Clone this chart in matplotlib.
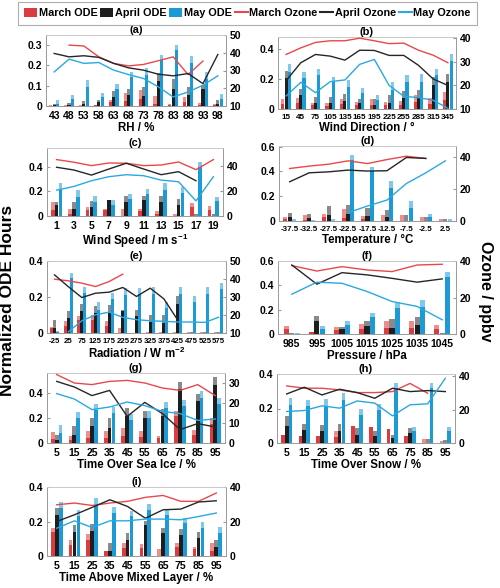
import numpy as np
import matplotlib
matplotlib.use("Agg")
import matplotlib.pyplot as plt
from matplotlib.patches import Patch
from matplotlib.lines import Line2D

plt.rcParams['font.family'] = ['Liberation Sans', 'DejaVu Sans']
plt.rcParams['font.weight'] = 'bold'
plt.rcParams['mathtext.fontset'] = 'custom'
plt.rcParams['mathtext.bf'] = 'Liberation Sans:bold'
plt.rcParams['mathtext.rm'] = 'Liberation Sans:bold'
nan = np.nan

# ---------------- data ----------------
a_cats = [43, 48, 53, 58, 63, 68, 73, 78, 83, 88, 93, 98]
a_tot_mar = [0.004, 0.003, 0.004, 0.005, 0.031, 0.064, 0.077, 0.048, 0.008, 0.045, 0.015, 0.008]
a_sol_mar = [0.002, 0.001, 0.002, 0.003, 0.020, 0.023, 0.036, 0.010, 0.004, 0.020, 0.003, 0.003]
a_tot_apr = [0.010, 0.016, 0.025, 0.031, 0.072, 0.082, 0.094, 0.165, 0.135, 0.094, 0.105, 0.028]
a_sol_apr = [0.005, 0.005, 0.010, 0.020, 0.044, 0.053, 0.048, 0.124, 0.086, 0.053, 0.082, 0.012]
a_tot_may = [0.028, 0.056, 0.127, 0.065, 0.110, 0.168, 0.188, 0.250, 0.300, 0.245, 0.168, 0.061]
a_sol_may = [0.012, 0.033, 0.094, 0.045, 0.082, 0.143, 0.152, 0.226, 0.275, 0.214, 0.135, 0.036]
a_oz_mar = [nan, 44.3, 43.8, 37.7, 34.0, 32.6, 33.4, 35.5, 37.7, 27.7, 35.3, nan]
a_oz_apr = [39.6, 37.7, 38.3, 37.4, 34.0, 31.5, 30.2, 27.9, 27.0, 28.3, 22.6, 39.0]
a_oz_may = [29.2, 36.4, 34.0, 34.5, 30.2, 27.7, 25.5, 20.8, 15.1, 17.9, 21.7, 27.0]

b_cats = [15, 45, 75, 105, 135, 165, 195, 225, 255, 285, 315, 345]
b_tot_mar = [0.064, 0.071, 0.038, 0.038, 0.064, 0.049, 0.064, 0.049, 0.053, 0.093, 0.076, 0.111]
b_sol_mar = [0.031, 0.038, 0.027, 0.022, 0.031, 0.027, 0.027, 0.027, 0.027, 0.049, 0.031, 0.060]
b_tot_apr = [0.253, 0.131, 0.082, 0.078, 0.098, 0.064, 0.064, 0.093, 0.120, 0.127, 0.216, 0.231]
b_sol_apr = [0.209, 0.093, 0.042, 0.038, 0.053, 0.038, 0.027, 0.038, 0.071, 0.082, 0.160, 0.182]
b_tot_may = [0.298, 0.244, 0.270, 0.211, 0.193, 0.142, 0.093, 0.180, 0.227, 0.233, 0.270, 0.364]
b_sol_may = [0.249, 0.204, 0.227, 0.182, 0.149, 0.104, 0.060, 0.124, 0.182, 0.182, 0.227, 0.320]
b_oz_mar = [33.1, 35.9, 38.2, 38.9, 38.9, 40.0, 38.9, 37.7, 37.9, 34.9, 32.8, 29.6]
b_oz_apr = [22.0, 29.6, 33.1, 32.4, 30.7, 34.9, 34.8, 32.7, 32.7, 28.5, 22.7, 20.0]
b_oz_may = [15.5, 21.3, 16.9, 21.6, 22.3, 28.9, 31.0, 20.0, 15.4, 14.8, 13.7, 10.3]

c_cats = [1, 3, 5, 7, 9, 11, 13, 15, 17, 19]
c_tot_mar = [0.114, 0.060, 0.073, 0.060, 0.060, 0.060, 0.040, 0.014, 0.106, 0.082]
c_sol_mar = [0.046, 0.020, 0.046, 0.046, 0.000, 0.040, 0.020, 0.000, 0.073, 0.046]
c_tot_apr = [0.114, 0.114, 0.122, 0.128, 0.160, 0.160, 0.160, 0.141, 0.020, 0.014]
c_sol_apr = [0.087, 0.060, 0.073, 0.128, 0.114, 0.128, 0.114, 0.087, 0.000, 0.000]
c_tot_may = [0.269, 0.210, 0.160, 0.128, 0.177, 0.215, 0.264, 0.236, 0.435, 0.155]
c_sol_may = [0.210, 0.155, 0.114, 0.087, 0.141, 0.177, 0.210, 0.182, 0.394, 0.122]
c_oz_mar = [44.8, 42.7, 40.0, 42.1, 41.9, 40.0, 40.5, 42.9, 36.8, 44.8]
c_oz_apr = [38.7, 36.5, 32.5, 37.3, 41.9, 37.3, 32.8, 35.2, 28.0, nan]
c_oz_may = [20.5, 23.5, 28.0, 31.2, 32.8, 32.0, 28.5, 27.2, 12.0, 31.2]

d_cats = [-37.5, -32.5, -27.5, -22.5, -17.5, -12.5, -7.5, -2.5, 2.5]
d_tot_mar = [0.030, 0.049, 0.057, 0.100, 0.040, 0.049, 0.049, 0.030, 0.014]
d_sol_mar = [0.014, 0.010, 0.035, 0.022, 0.020, 0.000, 0.000, 0.000, 0.000]
d_tot_apr = [0.068, 0.057, 0.122, 0.130, 0.103, 0.089, 0.049, 0.030, 0.020]
d_sol_apr = [0.035, 0.022, 0.049, 0.057, 0.040, 0.030, 0.000, 0.000, 0.000]
d_tot_may = [0.014, 0.008, 0.014, 0.535, 0.440, 0.327, 0.165, 0.057, 0.020]
d_sol_may = [0.000, 0.000, 0.000, 0.495, 0.400, 0.265, 0.103, 0.030, 0.000]
d_oz_mar = [32.9, 34.4, 35.6, 37.7, 36.0, 38.5, 40.6, 39.2, nan]
d_oz_apr = [24.6, 30.2, 30.8, 31.9, 31.3, 31.5, 39.8, 39.2, nan]
d_oz_may = [nan, nan, nan, 5.2, 9.4, 13.1, 23.5, 30.2, 37.7]

e_cats = [-25, 25, 75, 125, 175, 225, 275, 325, 375, 425, 475, 525, 575]
e_tot_mar = [0.031, 0.068, 0.096, 0.101, 0.068, 0.030, 0.000, 0.006, 0.006, 0.006, 0.006, 0.006, 0.006]
e_sol_mar = [0.028, 0.037, 0.074, 0.074, 0.037, 0.000, 0.000, 0.000, 0.000, 0.000, 0.000, 0.000, 0.000]
e_tot_apr = [0.074, 0.120, 0.160, 0.148, 0.157, 0.129, 0.129, 0.098, 0.098, 0.203, 0.006, 0.006, 0.006]
e_sol_apr = [0.028, 0.083, 0.120, 0.111, 0.111, 0.120, 0.092, 0.061, 0.055, 0.160, 0.000, 0.000, 0.000]
e_tot_may = [0.013, 0.332, 0.258, 0.175, 0.221, 0.249, 0.249, 0.253, 0.175, 0.253, 0.203, 0.253, 0.277]
e_sol_may = [0.005, 0.304, 0.221, 0.129, 0.188, 0.212, 0.216, 0.216, 0.138, 0.216, 0.170, 0.216, 0.245]
e_oz_mar = [39.9, 39.0, 37.7, 35.8, 38.6, 42.7, nan, nan, nan, nan, nan, nan, nan]
e_oz_apr = [42.3, 35.8, 29.7, 32.1, 32.7, 35.3, 30.3, 34.9, 29.0, 17.4, nan, nan, nan]
e_oz_may = [nan, 10.6, 16.8, 20.1, 21.6, 18.7, 17.4, 16.8, 16.5, 16.1, 16.1, 15.9, 18.7]

f_cats = [985, 995, 1005, 1015, 1025, 1035, 1045]
f_tot_mar = [0.068, 0.016, 0.060, 0.080, 0.104, 0.104, 0.071]
f_sol_mar = [0.045, 0.016, 0.035, 0.044, 0.049, 0.049, 0.044]
f_tot_apr = [0.008, 0.144, 0.060, 0.109, 0.125, 0.136, 0.008]
f_sol_apr = [0.000, 0.104, 0.040, 0.063, 0.050, 0.076, 0.000]
f_tot_may = [0.005, 0.063, 0.109, 0.172, 0.262, 0.280, 0.512]
f_sol_may = [0.000, 0.044, 0.076, 0.136, 0.213, 0.226, 0.471]
f_oz_mar = [37.5, 34.5, 36.9, 35.1, 34.2, 37.8, 38.2]
f_oz_apr = [37.8, 27.3, 33.6, 32.4, 30.5, 28.4, 30.2]
f_oz_may = [21.8, 28.4, 27.8, 23.3, 17.8, 15.1, 7.8]

g_cats = [5, 15, 25, 35, 45, 55, 65, 75, 85, 95]
g_tot_mar = [0.085, 0.053, 0.093, 0.093, 0.120, 0.093, 0.059, 0.253, 0.107, 0.200]
g_sol_mar = [0.032, 0.027, 0.040, 0.040, 0.059, 0.048, 0.040, 0.213, 0.067, 0.155]
g_tot_apr = [0.067, 0.139, 0.200, 0.200, 0.280, 0.259, 0.272, 0.485, 0.392, 0.528]
g_sol_apr = [0.027, 0.067, 0.133, 0.120, 0.213, 0.200, 0.219, 0.432, 0.333, 0.467]
g_tot_may = [0.147, 0.245, 0.315, 0.288, 0.232, 0.253, 0.328, 0.347, 0.413, 0.360]
g_sol_may = [0.080, 0.200, 0.267, 0.240, 0.187, 0.200, 0.280, 0.293, 0.360, 0.315]
g_oz_mar = [34.2, 30.0, 29.2, 30.8, 31.3, 30.0, 27.5, 26.3, 29.2, 23.7]
g_oz_apr = [30.8, 28.0, 23.7, 26.3, 13.3, 20.3, 14.7, 6.7, 9.7, 8.0]
g_oz_may = [24.7, 22.0, 16.7, 18.0, 20.5, 18.7, 15.8, 14.7, 11.3, 12.0]

h_cats = [5, 15, 25, 35, 45, 55, 65, 75, 85, 95]
h_tot_mar = [0.048, 0.042, 0.042, 0.067, 0.100, 0.092, 0.081, 0.042, 0.023, 0.010]
h_sol_mar = [0.048, 0.042, 0.042, 0.035, 0.100, 0.092, 0.081, 0.042, 0.000, 0.000]
h_tot_apr = [0.154, 0.112, 0.104, 0.108, 0.087, 0.067, 0.048, 0.087, 0.023, 0.015]
h_sol_apr = [0.096, 0.077, 0.067, 0.067, 0.048, 0.042, 0.029, 0.058, 0.000, 0.000]
h_tot_may = [0.260, 0.250, 0.254, 0.288, 0.196, 0.225, 0.346, 0.092, 0.346, 0.092]
h_sol_may = [0.221, 0.212, 0.212, 0.250, 0.163, 0.192, 0.317, 0.067, 0.317, 0.067]
h_oz_mar = [34.1, 32.7, 32.7, 31.7, 30.1, 30.1, 30.7, 35.6, 29.7, nan]
h_oz_apr = [29.3, 33.3, 28.7, 32.1, 30.1, 26.7, 32.7, 30.7, 31.3, 30.7]
h_oz_may = [18.8, 19.4, 22.2, 20.8, 25.1, 23.8, 16.2, 22.8, 23.4, 38.6]

i_cats = [5, 15, 25, 35, 45, 55, 65, 75, 85, 95]
i_tot_mar = [0.165, 0.093, 0.128, 0.029, 0.074, 0.068, 0.041, 0.078, 0.054, 0.078]
i_sol_mar = [0.140, 0.064, 0.093, 0.029, 0.049, 0.045, 0.000, 0.054, 0.039, 0.029]
i_tot_apr = [0.278, 0.177, 0.186, 0.074, 0.132, 0.204, 0.165, 0.157, 0.138, 0.093]
i_sol_apr = [0.239, 0.138, 0.146, 0.029, 0.093, 0.181, 0.132, 0.122, 0.103, 0.054]
i_tot_may = [0.313, 0.268, 0.336, 0.282, 0.262, 0.301, 0.268, 0.219, 0.200, 0.171]
i_sol_may = [0.278, 0.233, 0.297, 0.249, 0.229, 0.268, 0.235, 0.190, 0.165, 0.132]
i_oz_mar = [29.7, 30.7, 29.3, 30.7, 31.7, 34.0, 35.1, 31.7, 31.7, 36.5]
i_oz_apr = [20.0, 23.9, 28.2, 32.6, 28.7, 21.9, 26.8, 27.2, 31.3, 32.0]
i_oz_may = [16.1, 20.4, 16.5, 20.4, 20.4, 21.4, 21.4, 21.0, 22.9, 24.9]

titles = ['(a)', '(b)', '(c)', '(d)', '(e)', '(f)', '(g)', '(h)', '(i)']
xlabels = ['RH / %', 'Wind Direction / \u00b0', r'Wind Speed / m s$^{\mathbf{-1}}$',
           'Temperature / \u00b0C', r'Radiation / W m$^{\mathbf{-2}}$', 'Pressure / hPa',
           'Time Over Sea Ice / %', 'Time Over Snow / %', 'Time Above Mixed Layer / %']

# ---------------- style ----------------
SOLID = ['#DC3B3F', '#1E1E1E', '#1C9AD6']
LIGHT = ['#EE8E8E', '#8A8A8A', '#80C8EC']
LINEC = ['#E8484C', '#262626', '#2AA8E0']
SPINE = '#9A9A9A'

W, H = 500, 588
fig = plt.figure(figsize=(5.0, 5.88), dpi=100)

def rect(x0, x1, y0, y1):
    return [x0 / W, 1 - y1 / H, (x1 - x0) / W, (y1 - y0) / H]

panels = [
    (a_cats, [a_tot_mar, a_tot_apr, a_tot_may], [a_sol_mar, a_sol_apr, a_sol_may], [a_oz_mar, a_oz_apr, a_oz_may]),
    (b_cats, [b_tot_mar, b_tot_apr, b_tot_may], [b_sol_mar, b_sol_apr, b_sol_may], [b_oz_mar, b_oz_apr, b_oz_may]),
    (c_cats, [c_tot_mar, c_tot_apr, c_tot_may], [c_sol_mar, c_sol_apr, c_sol_may], [c_oz_mar, c_oz_apr, c_oz_may]),
    (d_cats, [d_tot_mar, d_tot_apr, d_tot_may], [d_sol_mar, d_sol_apr, d_sol_may], [d_oz_mar, d_oz_apr, d_oz_may]),
    (e_cats, [e_tot_mar, e_tot_apr, e_tot_may], [e_sol_mar, e_sol_apr, e_sol_may], [e_oz_mar, e_oz_apr, e_oz_may]),
    (f_cats, [f_tot_mar, f_tot_apr, f_tot_may], [f_sol_mar, f_sol_apr, f_sol_may], [f_oz_mar, f_oz_apr, f_oz_may]),
    (g_cats, [g_tot_mar, g_tot_apr, g_tot_may], [g_sol_mar, g_sol_apr, g_sol_may], [g_oz_mar, g_oz_apr, g_oz_may]),
    (h_cats, [h_tot_mar, h_tot_apr, h_tot_may], [h_sol_mar, h_sol_apr, h_sol_may], [h_oz_mar, h_oz_apr, h_oz_may]),
    (i_cats, [i_tot_mar, i_tot_apr, i_tot_may], [i_sol_mar, i_sol_apr, i_sol_may], [i_oz_mar, i_oz_apr, i_oz_may]),
]

rects = [rect(46, 226, 35, 106), rect(278, 456, 37, 109),
         rect(47, 223, 148, 216), rect(279, 456, 146, 221),
         rect(47, 226, 261, 333), rect(278, 456, 261, 334),
         rect(47, 225, 373, 443), rect(277, 455, 374, 443),
         rect(47, 226, 487, 556)]

left_lims = [(0, 0.35), (0, 0.48), (0, 0.55), (0, 0.606), (0, 0.4), (0, 0.6), (0, 0.56), (0, 0.4), (0, 0.4)]
left_ticks = [[0, 0.1, 0.2, 0.3], [0, 0.2, 0.4], [0, 0.2, 0.4], [0, 0.2, 0.4, 0.6], [0, 0.2, 0.4],
              [0, 0.2, 0.4, 0.6], [0, 0.2, 0.4], [0, 0.2, 0.4], [0, 0.2, 0.4]]
right_lims = [(10, 50), (10, 40.5), (0, 54), (0, 47), (10, 50), (0, 40), (0, 35), (0, 41.2), (0, 40)]
right_ticks = [[10, 20, 30, 40, 50], [10, 20, 30, 40], [0, 20, 40], [0, 20, 40], [10, 20, 30, 40, 50],
               [0, 20, 40], [0, 10, 20, 30], [0, 20, 40], [0, 20, 40]]
xtick_sizes = [7.5, 5.9, 7.5, 5.8, 5.6, 7.5, 7.5, 7.5, 7.5]

offsets = [-0.22, 0.0, 0.22]
bw = 0.21

def fmt(v):
    return '0' if v == 0 else ('%g' % v)

for k, (cats, tots, sols, ozs) in enumerate(panels):
    ax = fig.add_axes(rects[k])
    n = len(cats)
    x = np.arange(n)
    for s in range(3):
        ax.bar(x + offsets[s], tots[s], width=bw, color=LIGHT[s], linewidth=0, zorder=2)
        ax.bar(x + offsets[s], sols[s], width=bw, color=SOLID[s], linewidth=0, zorder=3)
    ax.set_xlim(-0.55, n - 0.45)
    ax.set_ylim(*left_lims[k])
    ax.set_yticks(left_ticks[k])
    ax.set_yticklabels([fmt(v) for v in left_ticks[k]], fontsize=7.5, fontweight='bold')
    ax.set_xticks(x)
    ax.set_xticklabels([fmt(c) for c in cats], fontsize=xtick_sizes[k], fontweight='bold')
    ax.tick_params(axis='y', length=2, direction='in', color=SPINE, pad=2.5)
    ax.tick_params(axis='x', length=0, pad=3.5)
    for sp in ax.spines.values():
        sp.set_color(SPINE)
        sp.set_linewidth(0.6)
    ax.spines['top'].set_color('#C8C8C8')
    ax.set_title(titles[k], fontsize=8, fontweight='bold', pad=1)
    ax.set_xlabel(xlabels[k], fontsize=8.3, fontweight='bold', labelpad=1)

    ax2 = ax.twinx()
    for s in range(3):
        ax2.plot(x, np.array(ozs[s], dtype=float), color=LINEC[s], lw=1.0, zorder=4)
    ax2.set_ylim(*right_lims[k])
    ax2.set_yticks(right_ticks[k])
    ax2.set_yticklabels([fmt(v) for v in right_ticks[k]], fontsize=7.5, fontweight='bold')
    ax2.tick_params(axis='y', length=2, direction='in', color=SPINE, pad=2.5)
    for sp in ax2.spines.values():
        sp.set_color(SPINE)
        sp.set_linewidth(0.6)
    ax2.spines['top'].set_color('#C8C8C8')

fig.text(8 / W, 1 - 300 / H, 'Normalized ODE Hours', rotation=90, ha='center', va='center',
         fontsize=12.5, fontweight='bold')
fig.text(485 / W, 1 - 291 / H, 'Ozone / ppbv', rotation=-90, ha='center', va='center',
         fontsize=11.5, fontweight='bold')

handles = [Patch(facecolor=SOLID[0]), Patch(facecolor=SOLID[1]), Patch(facecolor=SOLID[2]),
           Line2D([], [], color=LINEC[0], lw=1.5), Line2D([], [], color=LINEC[1], lw=1.5),
           Line2D([], [], color=LINEC[2], lw=1.5)]
labels = ['March ODE', 'April ODE', 'May ODE', 'March Ozone', 'April Ozone', 'May Ozone']
leg = fig.legend(handles, labels, loc='upper center', bbox_to_anchor=(0.495, 0.999), ncol=6,
                 frameon=True, fancybox=False, edgecolor='#9A9A9A',
                 handlelength=1.2, handleheight=0.8, handletextpad=0.15, columnspacing=0.25,
                 borderpad=0.6, borderaxespad=0.1, prop={'weight': 'bold', 'size': 7.8})
leg.get_frame().set_linewidth(0.8)

fig.savefig('out.png', dpi=100)
